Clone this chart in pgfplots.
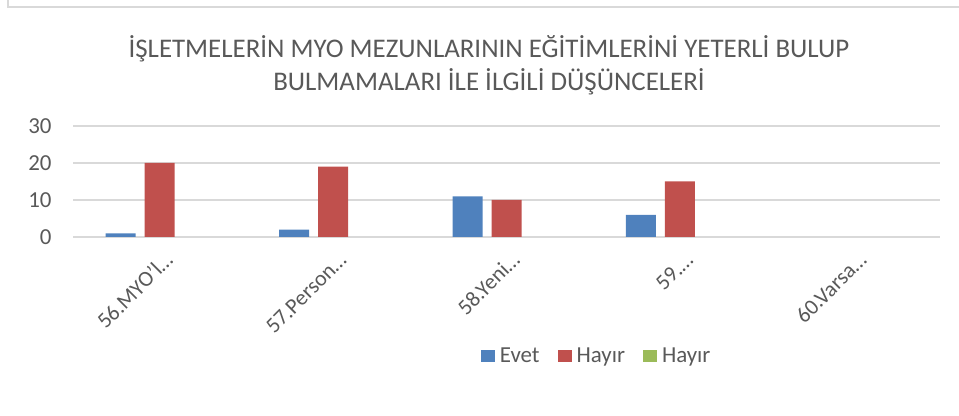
\documentclass[border=0pt]{standalone}
\usepackage{pgfplots}
\pgfplotsset{compat=1.18}
\usepackage{fontspec}
\setmainfont{Carlito}
\definecolor{cblue}{HTML}{4F81BD}
\definecolor{cred}{HTML}{C0504D}
\definecolor{cgreen}{HTML}{9BBB59}
\definecolor{gridc}{HTML}{D9D9D9}
\definecolor{txt}{HTML}{595959}
\begin{document}
\begin{tikzpicture}
\useasboundingbox (0bp,0bp) rectangle (959bp,416bp);
\draw[color=gridc, line width=1.5bp] (8bp,416bp) -- (8bp,409bp) -- (959bp,409bp);
\node[text=txt, font=\fontsize{27}{33}\selectfont, align=center] at (489bp,351bp) {İŞLETMELERİN MYO MEZUNLARININ EĞİTİMLERİNİ YETERLİ BULUP\\BULMAMALARI İLE İLGİLİ DÜŞÜNCELERİ};
\begin{axis}[
  at={(73bp,179bp)}, anchor=south west,
  scale only axis, width=867bp, height=111bp,
  xmin=-0.5, xmax=4.5, ymin=0, ymax=30,
  ytick={0,10,20,30}, xtick={0,1,2,3,4},
  xticklabels={56.MYO’l…,57.Person…,58.Yeni…,59.…,60.Varsa…},
  axis line style={draw=none},
  major tick length=0pt,
  ymajorgrids, grid style={color=gridc, line width=1.5bp},
  /pgf/number format/assume math mode=true,
  yticklabel style={font=\fontsize{23}{27}\selectfont, text=txt, xshift=-18bp},
  xticklabel style={font=\fontsize{22}{26}\selectfont, text=txt, xshift=17bp, yshift=-22bp, rotate=45, anchor=base east},
  legend columns=3,
  legend style={at={(0.604,-1.072)}, anchor=center, draw=none, fill=none,
    font=\fontsize{23}{27}\selectfont, text=txt,
    /tikz/every odd column/.append style={column sep=3bp},
    /tikz/every even column/.append style={column sep=16bp}},
  legend image code/.code={\fill[#1] (0bp,-6bp) rectangle (14bp,6bp);},
]
\addplot[ybar, bar width=30bp, bar shift=-39bp, fill=cblue, draw=none, restrict y to domain=0.001:100] coordinates {(0,1) (1,2) (2,11) (3,6) (4,0)};
\addplot[ybar, bar width=30bp, bar shift=0bp, fill=cred, draw=none, restrict y to domain=0.001:100] coordinates {(0,20) (1,19) (2,10) (3,15) (4,0)};
\addplot[ybar, bar width=30bp, bar shift=39bp, fill=none, draw=none,
  legend image code/.code={\fill[cgreen] (0bp,-6bp) rectangle (14bp,6bp);}] coordinates {(0,0) (1,0) (2,0) (3,0) (4,0)};
\legend{Evet,Hayır,Hayır}
\end{axis}
\end{tikzpicture}
\end{document}
